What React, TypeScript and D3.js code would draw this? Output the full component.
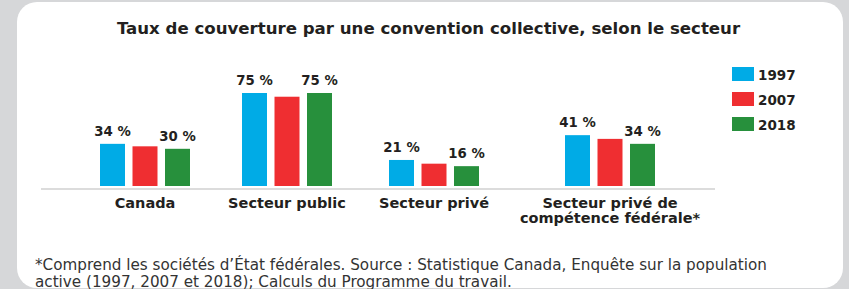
import React from "react";
import * as d3 from "d3";

const categories = ["Canada", "Secteur public", "Secteur privé", "Secteur privé de|compétence fédérale*"];
const years = ["1997", "2007", "2018"];
const values1997 = [34, 75, 21, 41];
const values2007 = [32, 72, 18, 38];
const values2018 = [30, 75, 16, 34];
const labelled = [true, false, true];
const colors = ["#00abe6", "#ef2e31", "#27903c"];
const title = "Taux de couverture par une convention collective, selon le secteur";
const footnote = [
  "*Comprend les sociétés d’État fédérales. Source : Statistique Canada, Enquête sur la population",
  "active (1997, 2007 et 2018); Calculs du Programme du travail.",
];

const W = 849;
const H = 289;
const FONT = "'DejaVu Sans', sans-serif";
const TEXT = "#231f20";

export default function App() {
  const series = [values1997, values2007, values2018];
  const baseline = 186;
  const y = d3.scaleLinear().domain([0, 75]).range([baseline, 93]);
  const x = d3.scaleOrdinal<string, number>().domain(categories).range([145, 287, 434, 610]);
  const xi = d3.scaleBand<string>().domain(years).range([-45, 45]).paddingInner(0.2308).paddingOuter(0);

  return (
    <svg width={W} height={H} style={{ position: "absolute", left: 0, top: 0 }} fontFamily={FONT}>
      <rect x={0} y={0} width={W} height={H} fill="#d6d7d9" />
      <rect x={17} y={2} width={826} height={286} rx={20} ry={20} fill="#ffffff" />
      <text x={428.5} y={34} textAnchor="middle" fontSize={16.6} fontWeight={700} fill={TEXT}>
        {title}
      </text>
      <line x1={41} x2={715} y1={189} y2={189} stroke="#dcdcdc" strokeWidth={2} />
      {categories.map((c, ci) => (
        <g key={c} transform={`translate(${x(c)},0)`}>
          {years.map((yr, si) => {
            const v = series[si][ci];
            const bx = xi(yr)!;
            return (
              <g key={yr}>
                <rect x={bx} y={y(v)} width={xi.bandwidth()} height={baseline - y(v)} fill={colors[si]} />
                {labelled[si] && (
                  <text x={bx + xi.bandwidth() / 2} y={y(v) - 8} textAnchor="middle" fontSize={13.3} fontWeight={700} fill={TEXT}>
                    {`${v} %`}
                  </text>
                )}
              </g>
            );
          })}
          {c.split("|").map((line, li) => (
            <text key={li} x={0} y={208 + li * 14.5} textAnchor="middle" fontSize={14.5} fontWeight={700} fill={TEXT}>
              {line}
            </text>
          ))}
        </g>
      ))}
      {years.map((yr, si) => (
        <g key={yr} transform={`translate(732,${67 + si * 25})`}>
          <rect x={0} y={0} width={22} height={14} fill={colors[si]} />
          <text x={26} y={13} fontSize={13.5} fontWeight={700} fill={TEXT}>
            {yr}
          </text>
        </g>
      ))}
      {footnote.map((l, i) => (
        <text key={i} x={35} y={270 + i * 16.5} fontSize={15.2} fill="#333">
          {l}
        </text>
      ))}
    </svg>
  );
}
